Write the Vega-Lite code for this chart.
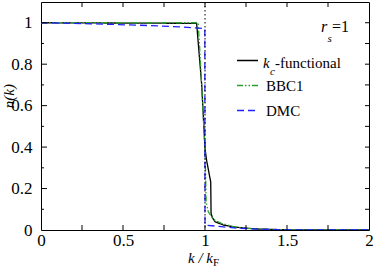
{
  "$schema": "https://vega.github.io/schema/vega-lite/v6.json",
  "width": 328,
  "height": 228,
  "autosize": "none",
  "padding": {"left": 41, "top": 2, "right": 5, "bottom": 37},
  "background": "white",
  "config": {
    "view": {"stroke": null},
    "font": "Liberation Serif",
    "axis": {
      "grid": false,
      "domainColor": "black",
      "domainWidth": 1,
      "labelColor": "black",
      "labelFont": "Liberation Serif",
      "labelFontSize": 17,
      "labelFlush": false,
      "labelOverlap": false,
      "titleColor": "black",
      "titleFont": "Liberation Serif",
      "titleFontWeight": "normal"
    },
    "legend": {
      "labelFont": "Liberation Serif",
      "labelFontSize": 15,
      "labelColor": "black"
    },
    "text": {"font": "Liberation Serif", "color": "black", "align": "left", "baseline": "alphabetic"},
    "tick": {"color": "black", "opacity": 1, "thickness": 1}
  },
  "datasets": {
    "curves": [
      {"k": 0, "n": 1, "s": "kc"},
      {"k": 0.949, "n": 0.997, "s": "kc"},
      {"k": 0.98, "n": 0.70, "s": "kc"},
      {"k": 1.0, "n": 0.392, "s": "kc"},
      {"k": 1.01, "n": 0.335, "s": "kc"},
      {"k": 1.035, "n": 0.231, "s": "kc"},
      {"k": 1.037, "n": 0.08, "s": "kc"},
      {"k": 1.045, "n": 0.06, "s": "kc"},
      {"k": 1.061, "n": 0.04, "s": "kc"},
      {"k": 1.112, "n": 0.024, "s": "kc"},
      {"k": 1.193, "n": 0.013, "s": "kc"},
      {"k": 1.315, "n": 0.005, "s": "kc"},
      {"k": 1.5, "n": 0.001, "s": "kc"},
      {"k": 2, "n": 0, "s": "kc"},
      {"k": 0, "n": 1, "s": "BBC1"},
      {"k": 0.958, "n": 1, "s": "BBC1"},
      {"k": 0.966, "n": 0.9, "s": "BBC1"},
      {"k": 0.978, "n": 0.72, "s": "BBC1"},
      {"k": 0.99, "n": 0.54, "s": "BBC1"},
      {"k": 1.0, "n": 0.39, "s": "BBC1"},
      {"k": 1.004, "n": 0.25, "s": "BBC1"},
      {"k": 1.007, "n": 0.135, "s": "BBC1"},
      {"k": 1.02, "n": 0.088, "s": "BBC1"},
      {"k": 1.051, "n": 0.051, "s": "BBC1"},
      {"k": 1.1, "n": 0.032, "s": "BBC1"},
      {"k": 1.173, "n": 0.016, "s": "BBC1"},
      {"k": 1.254, "n": 0.008, "s": "BBC1"},
      {"k": 1.4, "n": 0.002, "s": "BBC1"},
      {"k": 1.6, "n": 0, "s": "BBC1"},
      {"k": 2, "n": 0, "s": "BBC1"},
      {"k": 0, "n": 1.0, "s": "DMC"},
      {"k": 0.3, "n": 0.995, "s": "DMC"},
      {"k": 0.6, "n": 0.988, "s": "DMC"},
      {"k": 0.85, "n": 0.98, "s": "DMC"},
      {"k": 0.999, "n": 0.972, "s": "DMC"},
      {"k": 1.0, "n": 0.024, "s": "DMC"},
      {"k": 1.1, "n": 0.016, "s": "DMC"},
      {"k": 1.21, "n": 0.008, "s": "DMC"},
      {"k": 1.35, "n": 0.003, "s": "DMC"},
      {"k": 1.5, "n": 0.001, "s": "DMC"},
      {"k": 2, "n": 0, "s": "DMC"}
    ],
    "xticks": [{"t": 0.25}, {"t": 0.5}, {"t": 0.75}, {"t": 1}, {"t": 1.25}, {"t": 1.5}, {"t": 1.75}],
    "ymajor": [{"t": 0.2}, {"t": 0.4}, {"t": 0.6}, {"t": 0.8}, {"t": 1.0}],
    "yminor": [{"t": 0.1}, {"t": 0.3}, {"t": 0.5}, {"t": 0.7}, {"t": 0.9}],
    "yall": [{"t": 0.1}, {"t": 0.2}, {"t": 0.3}, {"t": 0.4}, {"t": 0.5}, {"t": 0.6}, {"t": 0.7}, {"t": 0.8}, {"t": 0.9}, {"t": 1.0}]
  },
  "layer": [
    {
      "data": {"name": "curves"},
      "mark": {"type": "line", "strokeWidth": 1.3, "clip": true},
      "encoding": {
        "x": {
          "field": "k", "type": "quantitative",
          "scale": {"domain": [0, 2], "nice": false, "zero": false},
          "axis": {
            "orient": "bottom",
            "values": [0, 0.5, 1, 1.5, 2],
            "labelExpr": "''+datum.value",
            "ticks": false,
            "labelPadding": 2,
            "title": "k / k",
            "titleFontStyle": "italic",
            "titleFontSize": 15,
            "titleX": 159,
            "titleY": 32,
            "titleBaseline": "alphabetic"
          }
        },
        "y": {
          "field": "n", "type": "quantitative",
          "scale": {"domain": [0, 1.1], "nice": false},
          "axis": {
            "orient": "left",
            "values": [0, 0.2, 0.4, 0.6, 0.8, 1.0],
            "labelExpr": "''+datum.value",
            "ticks": false,
            "labelPadding": 9,
            "title": null
          }
        },
        "color": {
          "field": "s", "type": "nominal",
          "scale": {"domain": ["kc", "BBC1", "DMC"], "range": ["#000000", "#2ca02c", "#1f1fff"]},
          "legend": {
            "orient": "none",
            "legendX": 195,
            "legendY": 47,
            "title": null,
            "symbolType": "stroke",
            "symbolSize": 441,
            "symbolStrokeWidth": 1.5,
            "labelOffset": 7,
            "rowPadding": 5,
            "padding": 0,
            "labelExpr": "datum.label == 'kc' ? '' : datum.label"
          }
        },
        "strokeDash": {
          "field": "s", "type": "nominal",
          "scale": {"domain": ["kc", "BBC1", "DMC"], "range": [[1, 0], [6, 2, 1.5, 2, 1.5, 2], [7, 4]]},
          "legend": {
            "orient": "none",
            "legendX": 195,
            "legendY": 47,
            "title": null,
            "symbolType": "stroke",
            "symbolSize": 441,
            "symbolStrokeWidth": 1.5,
            "labelOffset": 7,
            "rowPadding": 5,
            "padding": 0,
            "labelExpr": "datum.label == 'kc' ? '' : datum.label"
          }
        }
      }
    },
    {
      "data": {"values": [{}]},
      "mark": {"type": "rule", "strokeDash": [1.5, 2.5], "color": "black", "strokeWidth": 1},
      "encoding": {
        "x": {"datum": 1, "type": "quantitative", "axis": null}
      }
    },
    {
      "data": {"name": "xticks"},
      "mark": {"type": "tick", "orient": "vertical", "size": 5, "yOffset": -2.5},
      "encoding": {
        "x": {"field": "t", "type": "quantitative", "axis": null},
        "y": {"datum": 0, "type": "quantitative", "axis": null}
      }
    },
    {
      "data": {"name": "xticks"},
      "mark": {"type": "tick", "orient": "vertical", "size": 5, "yOffset": 2.5},
      "encoding": {
        "x": {"field": "t", "type": "quantitative", "axis": null},
        "y": {"datum": 1.1, "type": "quantitative", "axis": null}
      }
    },
    {
      "data": {"name": "ymajor"},
      "mark": {"type": "tick", "orient": "horizontal", "size": 6, "xOffset": 3},
      "encoding": {
        "y": {"field": "t", "type": "quantitative", "axis": null},
        "x": {"datum": 0, "type": "quantitative", "axis": null}
      }
    },
    {
      "data": {"name": "yminor"},
      "mark": {"type": "tick", "orient": "horizontal", "size": 3, "xOffset": 1.5},
      "encoding": {
        "y": {"field": "t", "type": "quantitative", "axis": null},
        "x": {"datum": 0, "type": "quantitative", "axis": null}
      }
    },
    {
      "data": {"name": "yall"},
      "mark": {"type": "tick", "orient": "horizontal", "size": 4, "xOffset": -2},
      "encoding": {
        "y": {"field": "t", "type": "quantitative", "axis": null},
        "x": {"datum": 2, "type": "quantitative", "axis": null}
      }
    },
    {
      "data": {"values": [{}]},
      "mark": {"type": "text", "fontSize": 16, "fontStyle": "italic"},
      "encoding": {
        "text": {"value": "r"},
        "x": {
          "datum": 1.707, "type": "quantitative",
          "axis": {
            "orient": "bottom",
            "offset": -228,
            "values": [0, 2],
            "labels": false,
            "domain": true,
            "ticks": false,
            "title": null
          }
        },
        "y": {"datum": 0.957, "type": "quantitative", "axis": null}
      }
    },
    {
      "data": {"values": [{}]},
      "mark": {"type": "text", "fontSize": 11, "fontStyle": "italic"},
      "encoding": {
        "text": {"value": "s"},
        "x": {"datum": 1.747, "type": "quantitative", "axis": null},
        "y": {
          "datum": 0.909, "type": "quantitative",
          "axis": {
            "orient": "left",
            "offset": -328,
            "values": [0, 1],
            "labels": false,
            "domain": true,
            "ticks": false,
            "title": null
          }
        }
      }
    },
    {
      "data": {"values": [{}]},
      "mark": {"type": "text", "fontSize": 16},
      "encoding": {
        "text": {"value": "=1"},
        "x": {"datum": 1.774, "type": "quantitative", "axis": null},
        "y": {"datum": 0.957, "type": "quantitative", "axis": null}
      }
    },
    {
      "data": {"values": [{}]},
      "mark": {"type": "text", "fontSize": 15, "fontStyle": "italic"},
      "encoding": {
        "text": {"value": "k"},
        "x": {"datum": 1.354, "type": "quantitative", "axis": null},
        "y": {"datum": 0.78, "type": "quantitative", "axis": null}
      }
    },
    {
      "data": {"values": [{}]},
      "mark": {"type": "text", "fontSize": 11, "fontStyle": "italic"},
      "encoding": {
        "text": {"value": "c"},
        "x": {"datum": 1.396, "type": "quantitative", "axis": null},
        "y": {"datum": 0.746, "type": "quantitative", "axis": null}
      }
    },
    {
      "data": {"values": [{}]},
      "mark": {"type": "text", "fontSize": 15},
      "encoding": {
        "text": {"value": "-functional"},
        "x": {"datum": 1.427, "type": "quantitative", "axis": null},
        "y": {"datum": 0.78, "type": "quantitative", "axis": null}
      }
    },
    {
      "data": {"values": [{}]},
      "mark": {"type": "text", "fontSize": 11},
      "encoding": {
        "text": {"value": "F"},
        "x": {"datum": 1.049, "type": "quantitative", "axis": null},
        "y": {"datum": -0.172, "type": "quantitative", "axis": null}
      }
    },
    {
      "data": {"values": [{}]},
      "mark": {"type": "text", "fontSize": 15, "fontStyle": "italic", "angle": 270, "align": "center"},
      "encoding": {
        "text": {"value": "n(k)"},
        "x": {"datum": -0.163, "type": "quantitative", "axis": null},
        "y": {"datum": 0.646, "type": "quantitative", "axis": null}
      }
    }
  ],
  "resolve": {"axis": {"x": "independent", "y": "independent"}}
}
